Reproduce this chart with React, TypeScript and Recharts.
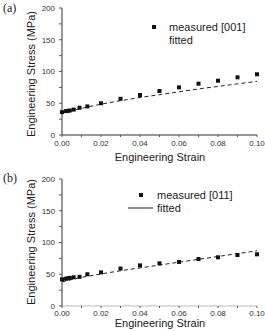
import React from 'react';
import { ComposedChart, Scatter, Line, XAxis, YAxis, Customized } from 'recharts';

// Strain positions of the measured points
const measuredStrain = [0, 0.002, 0.003, 0.004, 0.006, 0.009, 0.013, 0.02, 0.03, 0.04, 0.05, 0.06, 0.07, 0.08, 0.09, 0.1];
// Measured stress (MPa), [001] orientation
const measured001 = [36, 37.6, 38, 38.6, 40, 43, 45, 50, 57, 63, 69.3, 75, 80.8, 85.5, 90.8, 95.6];
// Measured stress (MPa), [011] orientation
const measured011 = [42, 43, 43.5, 44.3, 45.2, 46, 50, 53, 59, 64, 67.2, 69.3, 74, 76.7, 80.3, 81.4];

// Fitted curves
const fittedStrain = [0, 0.01, 0.02, 0.03, 0.04, 0.05, 0.06, 0.07, 0.08, 0.09, 0.1];
const fitted001 = [35, 42, 48.5, 54, 59, 63.5, 68, 72.5, 76.5, 80.5, 84.5];
const fitted011 = [38, 45, 50.5, 55.5, 60, 64.5, 69, 73.5, 78, 82.5, 87];

// Axis ticks (odd strain ticks and 25-step stress ticks are unlabeled minor ticks)
const strainTicks = [0, 0.01, 0.02, 0.03, 0.04, 0.05, 0.06, 0.07, 0.08, 0.09, 0.1];
const stressTicks = [0, 25, 50, 75, 100, 125, 150, 175, 200];

const SANS = '"Liberation Sans", Arial, sans-serif';
const SERIF = '"Liberation Serif", "Times New Roman", serif';
const INK = '#222';

const toPoints = (xs: number[], ys: number[]) => xs.map((x, i) => ({ x, y: ys[i] }));

const fmtStrain = (v: number) => (Math.round(v * 100) % 2 === 0 ? v.toFixed(2) : '');
const fmtStress = (v: number) => (v % 50 === 0 ? String(v) : '');

const Square = (p: any) => (
  <rect x={p.cx - 2} y={p.cy - 2} width={4} height={4} fill="#111" />
);

type PanelProps = {
  tag: string;
  measured: number[];
  fitted: number[];
  seriesName: string;
  top: number;
  height: number;
  marginTop: number;
  xAxisHeight: number;
  tickMargin: number;
  framed: boolean;
  yLabelY: number;
  xLabelY: number;
  legendY: number;
  legendMarkerX: number;
  legendTextX: number;
  legendLine: boolean;
  tagY: number;
};

function Panel(props: PanelProps) {
  const {
    tag, measured, fitted, seriesName, top, height, marginTop, xAxisHeight, tickMargin,
    framed, yLabelY, xLabelY, legendY, legendMarkerX, legendTextX, legendLine, tagY,
  } = props;
  const measuredData = toPoints(measuredStrain, measured);
  const fittedData = toPoints(fittedStrain, fitted);

  return (
    <div style={{ position: 'absolute', left: 0, top, width: 265, height, overflow: 'visible' }}>
      <ComposedChart
        width={265}
        height={height}
        margin={{ top: marginTop, right: 8, left: 0, bottom: 0 }}
      >
        <XAxis
          type="number"
          dataKey="x"
          domain={[0, 0.1]}
          ticks={strainTicks}
          interval={0}
          tickFormatter={fmtStrain}
          height={xAxisHeight}
          tickSize={2}
          tickMargin={tickMargin}
          axisLine={{ stroke: framed ? '#bbb' : '#333' }}
          tickLine={{ stroke: '#555' }}
          tick={{ fill: '#333', fontSize: 8, fontFamily: SANS }}
          label={{
            content: () => (
              <text x={160} y={xLabelY} textAnchor="middle" dominantBaseline="central"
                fontSize={11} fontFamily={SANS} fill={INK}>
                Engineering Strain
              </text>
            ),
          }}
        />
        <YAxis
          type="number"
          dataKey="y"
          domain={[0, 200]}
          ticks={stressTicks}
          interval={0}
          tickFormatter={fmtStress}
          width={62}
          tickSize={3}
          tickMargin={4}
          axisLine={{ stroke: '#333' }}
          tickLine={{ stroke: '#555' }}
          tick={{ fill: '#333', fontSize: 8, fontFamily: SANS }}
          label={{
            content: () => (
              <text x={31} y={yLabelY} transform={`rotate(-90 31 ${yLabelY})`} textAnchor="middle"
                dominantBaseline="central" fontSize={11} fontFamily={SANS} fill={INK}>
                Engineering Stress (MPa)
              </text>
            ),
          }}
        />
        {framed && (
          <XAxis xAxisId="frameTop" orientation="top" type="number" domain={[0, 0.1]}
            height={0} tick={false} tickLine={false} axisLine={{ stroke: '#777' }} />
        )}
        {framed && (
          <YAxis yAxisId="frameRight" orientation="right" type="number" domain={[0, 200]}
            width={0} tick={false} tickLine={false} axisLine={{ stroke: '#777' }} />
        )}
        <Line
          data={fittedData}
          dataKey="y"
          type="monotone"
          stroke={INK}
          strokeWidth={1}
          strokeDasharray="4 3"
          dot={false}
          activeDot={false}
          isAnimationActive={false}
          name="fitted"
        />
        <Scatter
          data={measuredData}
          dataKey="y"
          shape={Square}
          isAnimationActive={false}
          name={seriesName}
        />
        <Customized
          component={() => (
            <g fontFamily={SANS} fontSize={11} fill={INK}>
              <text x={3} y={tagY} fontFamily={SERIF} fontSize={12} fill={INK}>{tag}</text>
              <rect x={legendMarkerX - 2} y={legendY - 2} width={4} height={4} fill="#111" />
              <text x={legendTextX} y={legendY} dominantBaseline="central">{seriesName}</text>
              {legendLine && (
                <line x1={legendTextX - 29} x2={legendTextX - 4} y1={legendY + 13} y2={legendY + 13}
                  stroke={INK} strokeWidth={1} />
              )}
              <text x={legendTextX} y={legendY + 13} dominantBaseline="central">fitted</text>
            </g>
          )}
        />
      </ComposedChart>
    </div>
  );
}

export default function App() {
  return (
    <div style={{ position: 'absolute', left: 0, top: 0, width: 265, height: 331, overflow: 'hidden', background: '#fff' }}>
      <Panel
        tag="(a)"
        measured={measured001}
        fitted={fitted001}
        seriesName="measured [001]"
        top={0}
        height={165}
        marginTop={8}
        xAxisHeight={30}
        tickMargin={3}
        framed={false}
        yLabelY={74}
        xLabelY={157}
        legendY={27}
        legendMarkerX={154}
        legendTextX={169}
        legendLine={false}
        tagY={12}
      />
      <Panel
        tag="(b)"
        measured={measured011}
        fitted={fitted011}
        seriesName="measured [011]"
        top={165}
        height={166}
        marginTop={14}
        xAxisHeight={25}
        tickMargin={2}
        framed={true}
        yLabelY={77}
        xLabelY={158}
        legendY={30}
        legendMarkerX={141}
        legendTextX={157}
        legendLine={true}
        tagY={17}
      />
    </div>
  );
}
